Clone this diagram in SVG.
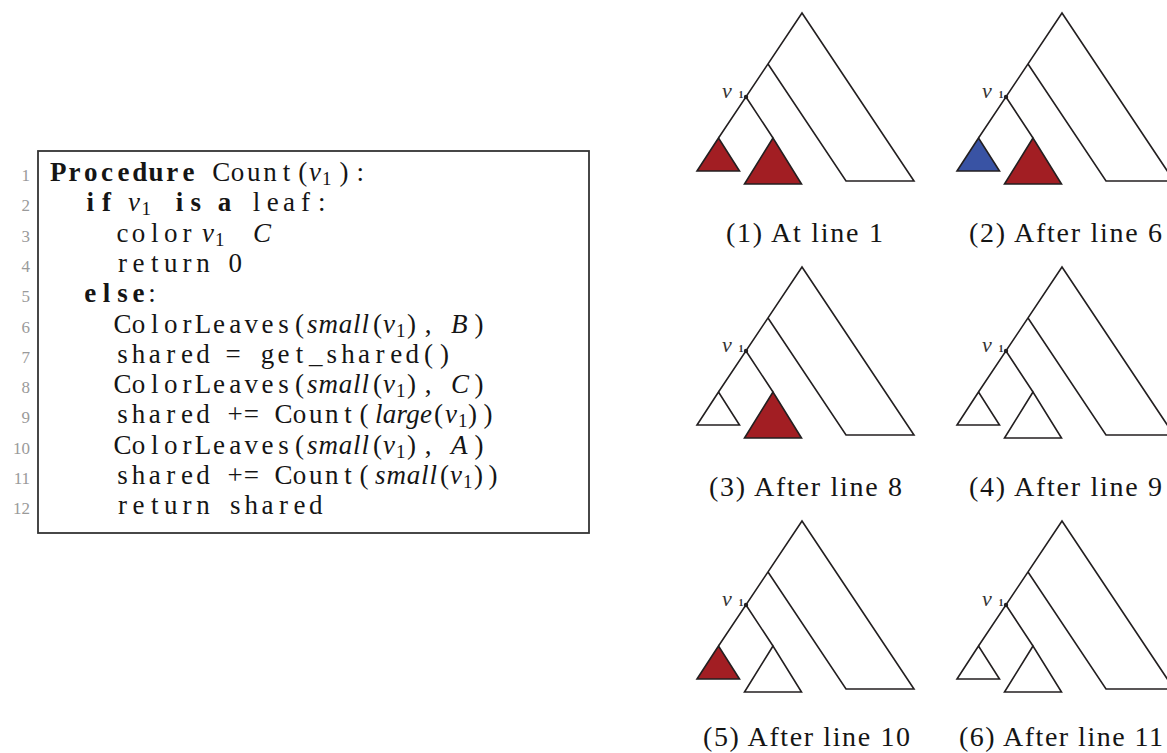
<svg xmlns="http://www.w3.org/2000/svg" xmlns:xlink="http://www.w3.org/1999/xlink" width="1167" height="753" viewBox="0 0 1167 753">
<style>
.c{font-family:"Liberation Serif",serif;font-size:27px;fill:#151515;text-anchor:middle}
.b{font-weight:bold}
.m{font-family:"Liberation Serif",serif;font-size:27px;fill:#151515;font-style:italic}
.u{font-family:"Liberation Serif",serif;font-size:27px;fill:#151515}
.s{font-family:"Liberation Serif",serif;font-size:19px;fill:#151515}
.ln{font-family:"Liberation Serif",serif;font-size:17px;fill:#9a9a9a;text-anchor:end}
.cap{font-family:"Liberation Serif",serif;font-size:28px;fill:#151515}
.ln2{fill:none;stroke:#231f20;stroke-width:1.6;stroke-linejoin:miter}
.tri{stroke:#231f20;stroke-width:1.6;stroke-linejoin:miter}
.red{fill:#a21e23}
.blue{fill:#3953a4}
.white{fill:#ffffff}
.lbl{font-family:"Liberation Serif",serif;font-size:22px;font-style:italic;fill:#333}
.lbls{font-family:"Liberation Serif",serif;font-size:10px;font-weight:bold;fill:#333}
</style>
<defs>
<g id="frame">
<path class="ln2" d="M718.5,138 L802,13 L914,181 L846,181 L768,64 M746,97 L773,138"/>
<circle cx="746" cy="97" r="2.2" fill="#231f20"/>
<text class="lbl" x="722" y="98">v</text>
<text class="lbls" x="738.5" y="98">1</text>
</g>
<polygon id="tri-s" class="tri" points="718.5,138 697,171 739.5,171"/>
<polygon id="tri-b" class="tri" points="773,138 744.5,184 801.5,184"/>
</defs>
<rect width="1167" height="753" fill="#ffffff"/>

<g id="code">
<rect x="38" y="151" width="551" height="382" fill="none" stroke="#333" stroke-width="1.8"/>
<g id="line-numbers">
<text class="ln" x="30" y="181">1</text>
<text class="ln" x="30" y="211.3">2</text>
<text class="ln" x="30" y="241.6">3</text>
<text class="ln" x="30" y="271.9">4</text>
<text class="ln" x="30" y="302.2">5</text>
<text class="ln" x="30" y="332.5">6</text>
<text class="ln" x="30" y="362.8">7</text>
<text class="ln" x="30" y="393.1">8</text>
<text class="ln" x="30" y="423.4">9</text>
<text class="ln" x="30" y="453.7">10</text>
<text class="ln" x="30" y="484">11</text>
<text class="ln" x="30" y="514.3">12</text>
</g>
<!-- line 1 -->
<text class="c" y="181"><tspan class="b" x="58.2 74.5 90.8 107.1 123.4 139.7 156 172.3 188.6">Procedure</tspan><tspan x="221.2 237.5 253.8 270.1 286.4 302.7">Count(</tspan><tspan x="344 360.3">):</tspan></text>
<text class="m" x="309" y="181">v</text><text class="s" x="322" y="185">1</text>
<!-- line 2 -->
<text class="c" y="211.3"><tspan class="b" x="90.3 106.4">if</tspan><tspan class="b" x="179.5 195.8">is</tspan><tspan class="b" x="224.5">a</tspan><tspan x="256.5 272.8 289.1 305.4 321.7">leaf:</tspan></text>
<text class="m" x="128" y="211.3">v</text><text class="s" x="141.5" y="215.3">1</text>
<!-- line 3 -->
<text class="c" y="241.6" x="122.5 138.6 154.7 170.8 186.9">color</text>
<text class="m" x="202" y="241.6">v</text><text class="s" x="215" y="245.6">1</text>
<text class="m" x="253" y="241.6">C</text>
<!-- line 4 -->
<text class="c" y="271.9"><tspan x="122.5 138.6 154.7 170.8 186.9 203">return</tspan><tspan x="235.2">0</tspan></text>
<!-- line 5 -->
<text class="c" y="302.2"><tspan class="b" x="90.3 106.4 122.5 138.6">else</tspan><tspan x="152">:</tspan></text>
<!-- line 6 -->
<text class="c" y="332.5"><tspan x="122.5 138.6 154.7 170.8 186.9 203 219.1 235.2 251.3 267.4 283.5 299.6">ColorLeaves(</tspan><tspan x="428">,</tspan><tspan x="479">)</tspan></text>
<text class="m" x="307" y="332.5" textLength="62" lengthAdjust="spacing">small</text>
<text class="u" x="373" y="332.5">(</text><text class="m" x="383" y="332.5">v</text><text class="s" x="396" y="336.5">1</text><text class="u" x="407" y="332.5">)</text>
<text class="m" x="451" y="332.5">B</text>
<!-- line 7 -->
<text class="c" y="362.8"><tspan x="122.5 138.6 154.7 170.8 186.9 203">shared</tspan><tspan x="233">=</tspan><tspan x="267.4 283.5 299.6 315.7 331.8 347.9 364 380.1 396.2 412.3 428.4 444.5">get_shared()</tspan></text>
<!-- line 8 -->
<text class="c" y="393.1"><tspan x="122.5 138.6 154.7 170.8 186.9 203 219.1 235.2 251.3 267.4 283.5 299.6">ColorLeaves(</tspan><tspan x="428">,</tspan><tspan x="479">)</tspan></text>
<text class="m" x="307" y="393.1" textLength="62" lengthAdjust="spacing">small</text>
<text class="u" x="373" y="393.1">(</text><text class="m" x="383" y="393.1">v</text><text class="s" x="396" y="397.1">1</text><text class="u" x="407" y="393.1">)</text>
<text class="m" x="451" y="393.1">C</text>
<!-- line 9 -->
<text class="c" y="423.4"><tspan x="122.5 138.6 154.7 170.8 186.9 203">shared</tspan><tspan x="235.2 251.3">+=</tspan><tspan x="283.5 299.6 315.7 331.8 347.9 364">Count(</tspan><tspan x="488">)</tspan></text>
<text class="m" x="375" y="423.4" textLength="57" lengthAdjust="spacing">large</text>
<text class="u" x="434" y="423.4">(</text><text class="m" x="445" y="423.4">v</text><text class="s" x="458" y="427.4">1</text><text class="u" x="468" y="423.4">)</text>
<!-- line 10 -->
<text class="c" y="453.7"><tspan x="122.5 138.6 154.7 170.8 186.9 203 219.1 235.2 251.3 267.4 283.5 299.6">ColorLeaves(</tspan><tspan x="428">,</tspan><tspan x="479">)</tspan></text>
<text class="m" x="307" y="453.7" textLength="62" lengthAdjust="spacing">small</text>
<text class="u" x="373" y="453.7">(</text><text class="m" x="383" y="453.7">v</text><text class="s" x="396" y="457.7">1</text><text class="u" x="407" y="453.7">)</text>
<text class="m" x="451" y="453.7">A</text>
<!-- line 11 -->
<text class="c" y="484"><tspan x="122.5 138.6 154.7 170.8 186.9 203">shared</tspan><tspan x="235.2 251.3">+=</tspan><tspan x="283.5 299.6 315.7 331.8 347.9 364">Count(</tspan><tspan x="493">)</tspan></text>
<text class="m" x="375" y="484" textLength="62" lengthAdjust="spacing">small</text>
<text class="u" x="440" y="484">(</text><text class="m" x="450" y="484">v</text><text class="s" x="463" y="488">1</text><text class="u" x="474" y="484">)</text>
<!-- line 12 -->
<text class="c" y="514.3"><tspan x="122.5 138.6 154.7 170.8 186.9 203">return</tspan><tspan x="235.2 251.3 267.4 283.5 299.6 315.7">shared</tspan></text>
</g>

<g id="tree1">
<use xlink:href="#tri-s" class="red"/><use xlink:href="#tri-b" class="red"/><use xlink:href="#frame"/>
<text class="cap" x="726" y="242" textLength="157" lengthAdjust="spacing">(1) At line 1</text>
</g>
<g id="tree2" transform="translate(260,0)">
<use xlink:href="#tri-s" class="blue"/><use xlink:href="#tri-b" class="red"/><use xlink:href="#frame"/>
<text class="cap" x="709" y="242" textLength="193" lengthAdjust="spacing">(2) After line 6</text>
</g>
<g id="tree3" transform="translate(0,254)">
<use xlink:href="#tri-s" class="white"/><use xlink:href="#tri-b" class="red"/><use xlink:href="#frame"/>
<text class="cap" x="709" y="242" textLength="193" lengthAdjust="spacing">(3) After line 8</text>
</g>
<g id="tree4" transform="translate(260,254)">
<use xlink:href="#tri-s" class="white"/><use xlink:href="#tri-b" class="white"/><use xlink:href="#frame"/>
<text class="cap" x="709" y="242" textLength="193" lengthAdjust="spacing">(4) After line 9</text>
</g>
<g id="tree5" transform="translate(0,508)">
<use xlink:href="#tri-s" class="red"/><use xlink:href="#tri-b" class="white"/><use xlink:href="#frame"/>
<text class="cap" x="703" y="238" textLength="207" lengthAdjust="spacing">(5) After line 10</text>
</g>
<g id="tree6" transform="translate(260,508)">
<use xlink:href="#tri-s" class="white"/><use xlink:href="#tri-b" class="white"/><use xlink:href="#frame"/>
<text class="cap" x="699" y="238" textLength="204" lengthAdjust="spacing">(6) After line 11</text>
</g>
</svg>
